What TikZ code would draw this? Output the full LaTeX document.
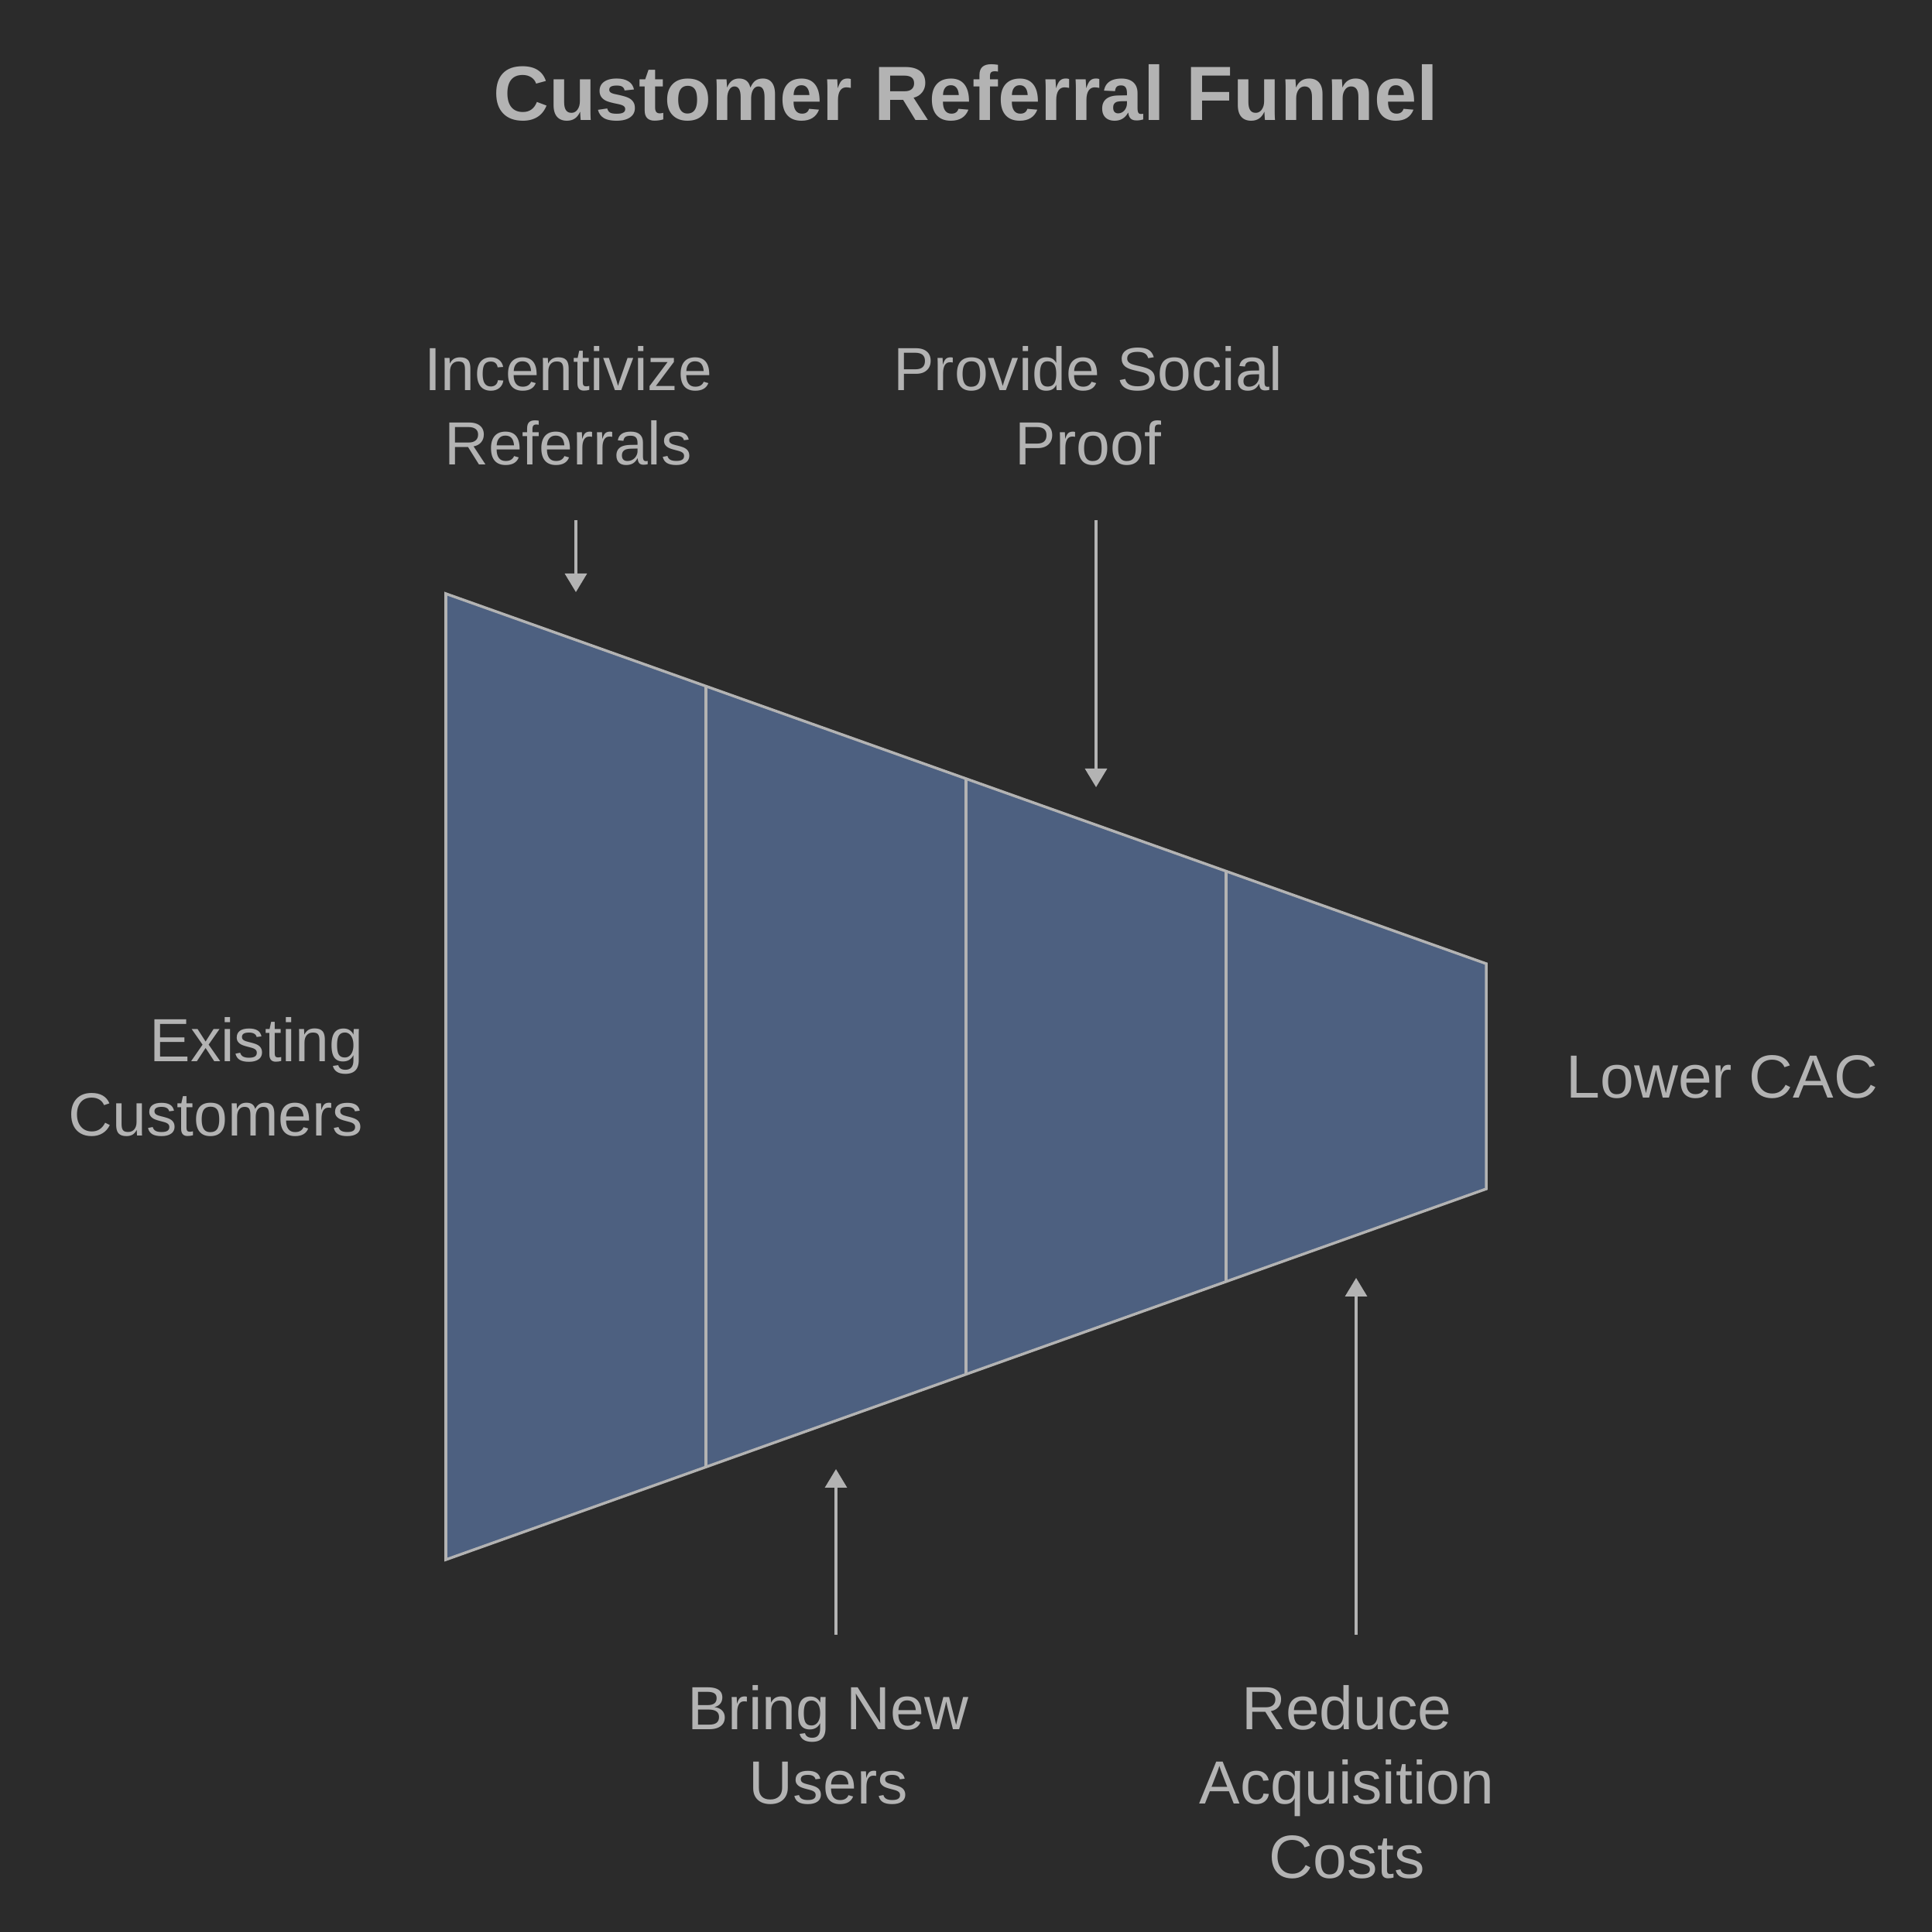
\documentclass[tikz,border=0pt]{standalone}
\usepackage{fontspec}
\setmainfont{Liberation Sans}
\usepackage{xcolor}
\usetikzlibrary{arrows.meta,positioning,calc}

\definecolor{bgdark}{HTML}{2B2B2B}
\definecolor{labelgray}{HTML}{B3B3B3}
\definecolor{funnelblue}{HTML}{4D6080}

\begin{document}
\begin{tikzpicture}[
    stagetext/.style={text=labelgray, inner sep=0pt, align=center, font=\fontsize{22.4}{27.3}\selectfont},
    funnel/.style={fill=funnelblue, draw=labelgray, line width=1pt},
    pusharrow/.style={draw=labelgray, line width=1pt, -{Triangle[width=0.28cm, length=0.24cm]}}
]
    % Background
    \fill[bgdark] (0,0) rectangle (24.96,24.96);

    % Title
    \node[text=labelgray, anchor=base, font=\fontsize{28.3}{34}\selectfont\bfseries] (title) at (12.48,23.40) {Customer Referral Funnel};

    % Funnel
    \coordinate (t0) at (5.76,17.29);
    \coordinate (b0) at (5.76,4.81);
    \coordinate (t4) at (19.20,12.51);
    \coordinate (b4) at (19.20,9.60);
    \coordinate (fl) at (5.76,11.05);
    \coordinate (fr) at (19.20,11.05);
    \filldraw[funnel] (t0) -- (t4) -- (b4) -- (b0) -- cycle;
    \foreach \k in {0.25,0.5,0.75}
        \draw[draw=labelgray, line width=1pt] ($(t0)!\k!(t4)$) -- ($(b0)!\k!(b4)$);

    % Arrow ends
    \coordinate (incStart) at (7.44,18.24);
    \coordinate (incTip) at (7.44,17.31);
    \coordinate (proofStart) at (14.16,18.24);
    \coordinate (proofTip) at (14.16,14.79);
    \coordinate (usersStart) at (10.80,3.84);
    \coordinate (usersTip) at (10.80,5.98);
    \coordinate (costStart) at (17.52,3.84);
    \coordinate (costTip) at (17.52,8.45);

    % Labels
    \node[stagetext, above=0.7cm of incStart, xshift=-0.1cm] (incentivize) {Incentivize\\Referrals};
    \node[stagetext, above=0.7cm of proofStart, xshift=-0.1cm] (proof) {Provide Social\\Proof};
    \node[stagetext, below=0.65cm of usersStart, xshift=-0.1cm] (newusers) {Bring New\\Users};
    \node[stagetext, below=0.65cm of costStart, xshift=-0.12cm] (reduce) {Reduce\\Acquisition\\Costs};
    \node[stagetext, align=right, left=1.06cm of fl] (existing) {Existing\\Customers};
    \node[stagetext, right=1.03cm of fr] (lowercac) {Lower CAC};

    % Connections
    \draw[pusharrow] (incStart) -- (incTip);
    \draw[pusharrow] (proofStart) -- (proofTip);
    \draw[pusharrow] (usersStart) -- (usersTip);
    \draw[pusharrow] (costStart) -- (costTip);
\end{tikzpicture}
\end{document}
